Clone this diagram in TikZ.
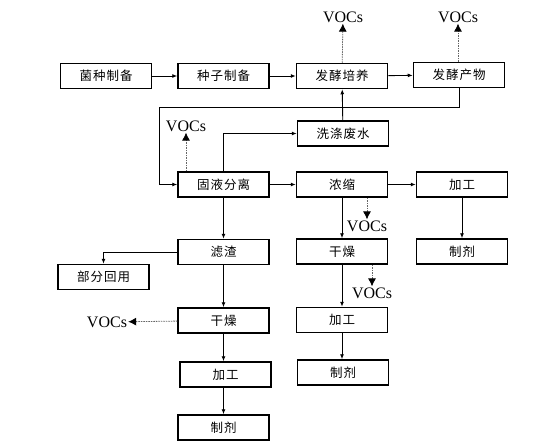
\documentclass[tikz,border=0pt]{standalone}
\usepackage{fontspec}
\setmainfont{Liberation Serif}
\newfontfamily\cjk[LetterSpace=8]{Noto Sans CJK SC}
\usetikzlibrary{arrows.meta}

\begin{document}
\begin{tikzpicture}[x=1pt,y=-1pt]
  % some styles
  \tikzset{
    box/.style={
      draw,
      line width=1.5pt,
      minimum width=91pt,
      minimum height=25pt,
      inner sep=0pt,
      font=\cjk\fontsize{12.5}{12.5}\selectfont
    },
    voc/.style={
      inner sep=1pt,
      font=\fontsize{16}{16}\selectfont
    },
    flow/.style={
      line width=0.9pt,
      -{Latex[length=5pt,width=4pt]}
    },
    gas/.style={
      line width=0.8pt,
      dash pattern=on 1.5pt off 1pt,
      draw=black!60,
      -{Latex[length=8pt,width=8pt,black]}
    }
  }
  \useasboundingbox (0,0) rectangle (541,447);

  % first row
  \node[box] (junzhong) at (106,76) {菌种制备};
  \node[box] (zhongzi) at (223.5,76) {种子制备};
  \node[box] (peiyang) at (342,76) {发酵培养};
  \node[box] (chanwu) at (459,75) {发酵产物};
  \node[box] (feishui) at (343,133.5) {洗涤废水};

  % separation and the three lines
  \node[box] (fenli) at (223.5,184.5) {固液分离};
  \node[box] (nongsuo) at (342,184.5) {浓缩};
  \node[box] (jgC) at (462,184.5) {加工};
  \node[box] (zjC) at (462,251.5) {制剂};

  \node[box] (lvzha) at (223.5,252) {滤渣};
  \node[box] (huiyong) at (103.5,277) {部分回用};
  \node[box] (gzA) at (223.5,320.5) {干燥};
  \node[box] (jgA) at (225.5,374.5) {加工};
  \node[box] (zjA) at (223.5,427.5) {制剂};

  \node[box] (gzB) at (342,251.5) {干燥};
  \node[box] (jgB) at (342,320) {加工};
  \node[box] (zjB) at (343,372.5) {制剂};

  % emissions
  \node[voc] (v1) at (343,17) {VOCs};
  \node[voc] (v2) at (458,17) {VOCs};
  \node[voc] (v3) at (186,126) {VOCs};
  \node[voc] (v4) at (367,226) {VOCs};
  \node[voc] (v5) at (372,293) {VOCs};
  \node[voc] (v6) at (107,322) {VOCs};
  \coordinate (back) at (159,107);

  \draw[flow] (junzhong) -- (zhongzi);
  \draw[flow] (zhongzi) -- (peiyang);
  \draw[flow] (peiyang) -- (chanwu);
  \draw[flow] (chanwu.south) |- (back) |- (fenli.west);
  \draw[flow] (fenli.north) |- (feishui.west);
  \draw[flow] (feishui) -- (peiyang);
  \draw[flow] (fenli) -- (nongsuo);
  \draw[flow] (nongsuo) -- (jgC);
  \draw[flow] (jgC) -- (zjC);
  \draw[flow] (fenli) -- (lvzha);
  \draw[flow] (lvzha.west) -| (huiyong.north);
  \draw[flow] (lvzha) -- (gzA);
  \draw[flow] (gzA) -- (jgA.north -| gzA);
  \draw[flow] (jgA.south -| zjA) -- (zjA);
  \draw[flow] (nongsuo) -- (gzB);
  \draw[flow] (gzB) -- (jgB);
  \draw[flow] (jgB) -- (zjB.north -| jgB);

  \draw[gas] (peiyang) -- (v1);
  \draw[gas] (chanwu.north -| v2) -- (v2);
  \draw[gas] (fenli.north -| v3) -- (v3);
  \draw[gas] (nongsuo.south -| v4) -- (v4);
  \draw[gas] (gzB.south -| v5) -- (v5);
  \draw[gas] (gzA) -- (v6);
\end{tikzpicture}
\end{document}
